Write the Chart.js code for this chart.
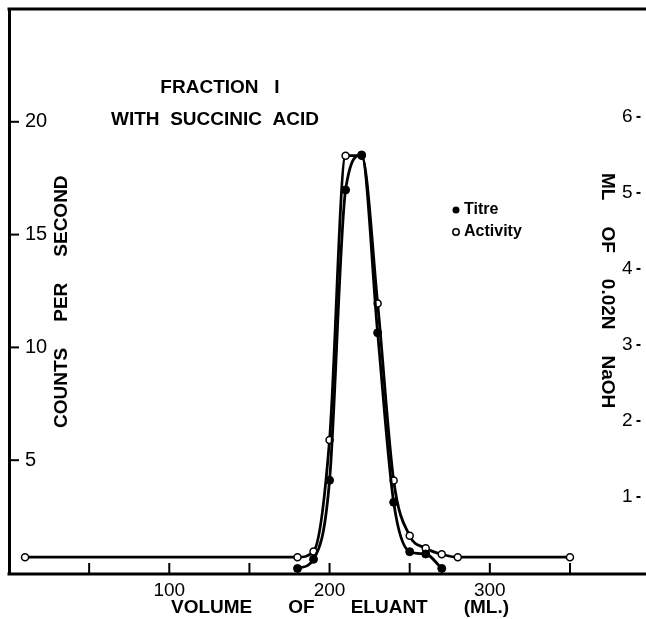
<!DOCTYPE html>
<html lang="en"><head><meta charset="UTF-8">
<title>Fraction I with succinic acid</title>
<script src="https://cdn.jsdelivr.net/npm/chart.js@4/dist/chart.umd.min.js"></script>
<style>
*{margin:0;padding:0;box-sizing:border-box}
html,body{width:646px;height:619px;background:#fff;overflow:hidden}
canvas{display:block}
</style></head><body>
<canvas id="c" width="646" height="619"></canvas>
<script>
// values
const activityMl = [10, 180, 190, 200, 210, 220, 230, 240, 250, 260, 270, 280, 350];
const activityCps = [0.7, 0.7, 0.95, 5.9, 18.5, 18.5, 11.95, 4.1, 1.65, 1.1, 0.83, 0.7, 0.7];
const titreMl = [180, 190, 200, 210, 220, 230, 240, 250, 260, 270];
const titreNaoh = [0.06, 0.18, 1.22, 5.04, 5.5, 3.16, 0.93, 0.28, 0.25, 0.06];

const xTickMarks = [50, 100, 150, 200, 250, 300, 350];
const xTickLabels = [100, 200, 300];
const leftTickLabels = [5, 10, 15, 20];
const rightTickLabels = [1, 2, 3, 4, 5, 6];

const FONT = '"Liberation Sans", Arial, sans-serif';

function words(ctx, list, x, y, gap) {
  // draws words left to right with a fixed gap between them
  ctx.textAlign = 'left';
  list.forEach(w => {
    ctx.fillText(w, x, y);
    x += ctx.measureText(w).width + gap;
  });
}

// no extra room for label overflow, the frame sits where the layout padding says
function noPad(s) {
  s.paddingTop = 0; s.paddingBottom = 0; s.paddingLeft = 0; s.paddingRight = 0;
}

const decor = {
  id: 'decor',
  afterDraw(chart) {
    const ctx = chart.ctx;
    const a = chart.chartArea;
    const sx = chart.scales.x, sy = chart.scales.y, sy2 = chart.scales.y2;
    ctx.save();
    ctx.strokeStyle = '#000';
    ctx.fillStyle = '#000';
    ctx.lineCap = 'butt';

    // top frame and bottom axis, both run to the right edge
    ctx.lineWidth = 3;
    ctx.beginPath(); ctx.moveTo(a.left - 1.5, a.top); ctx.lineTo(646, a.top); ctx.stroke();
    ctx.beginPath(); ctx.moveTo(a.left - 1.5, a.bottom + 1); ctx.lineTo(646, a.bottom + 1); ctx.stroke();

    // inward tick marks
    ctx.lineWidth = 2;
    xTickMarks.forEach(v => {
      const px = sx.getPixelForValue(v);
      ctx.beginPath(); ctx.moveTo(px, a.bottom); ctx.lineTo(px, a.bottom - 10); ctx.stroke();
    });
    leftTickLabels.forEach(v => {
      const py = sy.getPixelForValue(v);
      ctx.beginPath(); ctx.moveTo(a.left, py); ctx.lineTo(a.left + 10, py); ctx.stroke();
    });
    rightTickLabels.forEach(v => {
      const py = sy2.getPixelForValue(v);
      ctx.beginPath(); ctx.moveTo(a.right - 4, py); ctx.lineTo(a.right, py); ctx.stroke();
    });

    // right tick labels, inside the frame
    ctx.textBaseline = 'middle';
    ctx.textAlign = 'right';
    ctx.font = '19px ' + FONT;
    rightTickLabels.forEach(v => {
      ctx.fillText(String(v), a.right - 8, sy2.getPixelForValue(v));
    });

    // titles
    ctx.font = 'bold 19px ' + FONT;
    ctx.textAlign = 'center';
    ctx.fillText('FRACTION   I', 220, 88);
    ctx.fillText('WITH  SUCCINIC  ACID', 215, 120);

    // x axis title
    words(ctx, ['VOLUME', 'OF', 'ELUANT', '(ML.)'], 171, 608, 36);

    // left axis title, reads upwards
    ctx.save();
    ctx.translate(62, 428);
    ctx.rotate(-Math.PI / 2);
    words(ctx, ['COUNTS', 'PER', 'SECOND'], 0, 0, 26);
    ctx.restore();

    // right axis title, reads downwards
    ctx.save();
    ctx.translate(607, 173);
    ctx.rotate(Math.PI / 2);
    words(ctx, ['ML', 'OF', '0.02N', 'NaOH'], 0, 0, 26);
    ctx.restore();

    // legend
    ctx.font = 'bold 16px ' + FONT;
    ctx.beginPath(); ctx.arc(456, 210, 3.5, 0, Math.PI * 2); ctx.fill();
    ctx.textAlign = 'left';
    ctx.fillText('Titre', 464, 210);
    ctx.lineWidth = 1.5;
    ctx.fillStyle = '#fff';
    ctx.beginPath(); ctx.arc(456, 232, 3.2, 0, Math.PI * 2); ctx.fill(); ctx.stroke();
    ctx.fillStyle = '#000';
    ctx.fillText('Activity', 464, 232);
    ctx.restore();
  }
};

new Chart(document.getElementById('c'), {
  type: 'line',
  data: {
    datasets: [
      {
        label: 'Titre',
        data: titreMl.map((x, i) => ({ x, y: titreNaoh[i] })),
        yAxisID: 'y2',
        borderColor: '#000',
        borderWidth: 2.8,
        cubicInterpolationMode: 'monotone',
        pointRadius: 4,
        pointBackgroundColor: '#000',
        pointBorderColor: '#000',
        pointBorderWidth: 1
      },
      {
        label: 'Activity',
        data: activityMl.map((x, i) => ({ x, y: activityCps[i] })),
        yAxisID: 'y',
        borderColor: '#000',
        borderWidth: 2.8,
        cubicInterpolationMode: 'monotone',
        pointRadius: 3.5,
        pointBackgroundColor: '#fff',
        pointBorderColor: '#000',
        pointBorderWidth: 1.5
      }
    ]
  },
  options: {
    responsive: false,
    animation: false,
    devicePixelRatio: 1,
    layout: { padding: { top: 9, left: 0, right: 0, bottom: 0 } },
    plugins: { legend: { display: false }, tooltip: { enabled: false } },
    scales: {
      x: {
        type: 'linear', position: 'bottom', min: 0, max: 394,
        grid: { display: false, drawTicks: false },
        border: { display: false },
        ticks: {
          stepSize: 50, autoSkip: false, maxRotation: 0, padding: 6, color: '#000',
          font: { family: FONT, size: 19 },
          callback: v => xTickLabels.includes(v) ? String(v) : ''
        },
        afterFit: s => { s.height = 46; noPad(s); }
      },
      y: {
        position: 'left', min: 0, max: 25,
        grid: { display: false, drawTicks: false },
        border: { display: true, color: '#000', width: 3 },
        ticks: {
          stepSize: 5, mirror: true, padding: 16, crossAlign: 'near', color: '#000',
          font: { family: FONT, size: 20 },
          callback: v => leftTickLabels.includes(v) ? String(v) : ''
        },
        afterFit: s => { s.width = 9; noPad(s); }
      },
      y2: {
        position: 'right', min: 0, max: 7.42,
        grid: { display: false, drawTicks: false },
        border: { display: false },
        ticks: { display: false, stepSize: 1 },
        afterFit: s => { s.width = 2; noPad(s); }
      }
    }
  },
  plugins: [decor]
});
</script>
</body></html>
